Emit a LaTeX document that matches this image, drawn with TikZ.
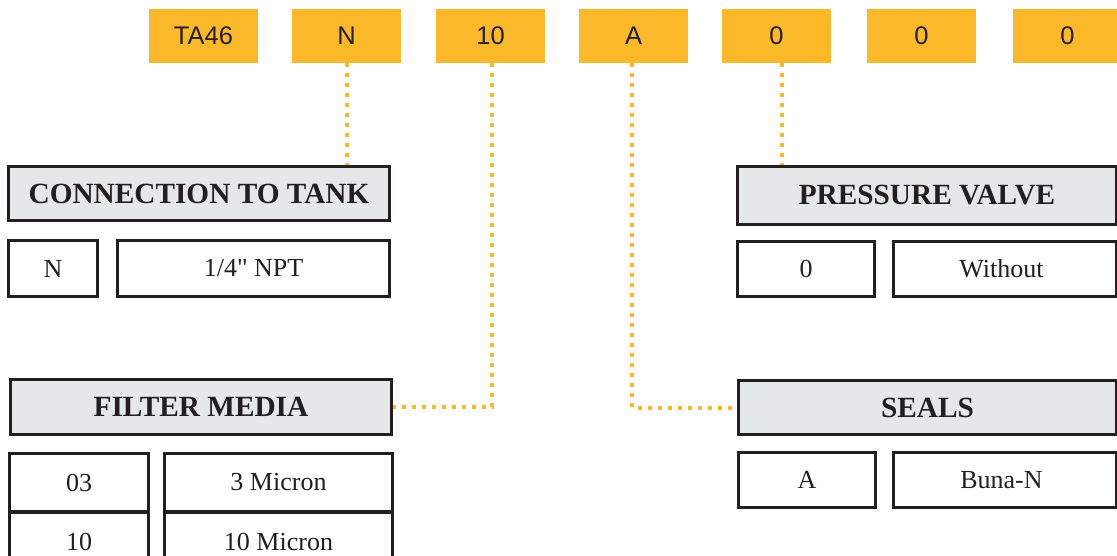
\documentclass[tikz,border=0pt]{standalone}
\usepackage{fontspec}
\setmainfont{Liberation Serif}[Ligatures=TeXOff]
\newfontfamily\codefont{Liberation Sans}
\definecolor{codeorange}{HTML}{FBB829}
\definecolor{headgray}{HTML}{E6E7E8}
\definecolor{boxline}{HTML}{231F20}
\begin{document}
\begin{tikzpicture}[x=1pt,y=-1pt,
  code/.style={fill=codeorange, minimum width=109pt, minimum height=54pt, inner sep=0pt,
    font=\codefont\fontsize{25.5}{25}\selectfont, text=boxline},
  head/.style={fill=headgray, draw=boxline, line width=3pt, inner sep=0pt,
    font=\bfseries\fontsize{29.3}{30}\selectfont, text=boxline},
  cell/.style={fill=white, draw=boxline, line width=3pt, inner sep=0pt,
    font=\fontsize{26}{28}\selectfont, text=boxline},
  thincell/.style={cell, line width=1.5pt},
  link/.style={draw=codeorange, line width=4pt, dash pattern=on 4pt off 6pt}
]
\useasboundingbox (0,0) rectangle (1117,555);
\clip (0,0) rectangle (1117,555);

% code boxes
\node[code] (t1) at (203.5,36) {TA46};
\node[code] (t2) at (346.5,36) {N};
\node[code] (t3) at (490.5,36) {10};
\node[code] (t4) at (633.5,36) {A};
\node[code] (t5) at (776.5,36) {0};
\node[code] (t6) at (921.5,36) {0};
\node[code] (t7) at (1067.5,36) {0};

% connection to tank
\node[head, minimum width=381pt, minimum height=54pt] (conn) at (199,193.5) {CONNECTION TO TANK};
\node[cell, minimum width=89pt, minimum height=56pt] (connN) at (53,268.5) {N};
\node[cell, minimum width=272pt, minimum height=56pt] (connV) at (253.5,268.5) {1/4" NPT};

% pressure valve
\node[head, minimum width=379pt, minimum height=58pt] (press) at (927,195.5) {PRESSURE VALVE};
\node[cell, minimum width=137pt, minimum height=55pt] (pressN) at (806,269) {0};
\node[cell, minimum width=223pt, minimum height=55pt] (pressV) at (1005,269) {\kern-7pt Without};

% filter media
\node[head, minimum width=381pt, minimum height=55pt] (filter) at (201,407) {FILTER MEDIA};
\node[thincell, minimum width=138pt, minimum height=57pt] (f03) at (79,482.5) {03};
\node[thincell, minimum width=138pt, minimum height=57pt] (f10) at (79,541.5) {10};
\node[thincell, minimum width=227pt, minimum height=57pt] (fm3) at (278.5,482.5) {3 Micron};
\node[thincell, minimum width=227pt, minimum height=57pt] (fm10) at (278.5,541.5) {10 Micron};
\draw[draw=boxline, line width=3pt] (f03.north west) rectangle (f10.south east);
\draw[draw=boxline, line width=3pt] (fm3.north west) rectangle (fm10.south east);

% seals
\node[head, minimum width=378pt, minimum height=54pt] (seals) at (927.5,407.5) {SEALS};
\node[cell, minimum width=137pt, minimum height=55pt] (sealsA) at (807,480) {A};
\node[cell, minimum width=223pt, minimum height=55pt] (sealsV) at (1005,480) {\kern-7pt Buna-N};

% links
\coordinate (t3s) at ([xshift=1.5pt]t3.south);
\coordinate (t4s) at ([xshift=-1.5pt]t4.south);
\coordinate (t5s) at ([xshift=5pt]t5.south);
\draw[link] (t2.south) -- (conn.north -| t2.south);
\draw[link] (t3s) |- (filter.east);
\draw[link] (t4s) |- (seals.west);
\draw[link] (t5s) -- (press.north -| t5s);
\end{tikzpicture}
\end{document}
